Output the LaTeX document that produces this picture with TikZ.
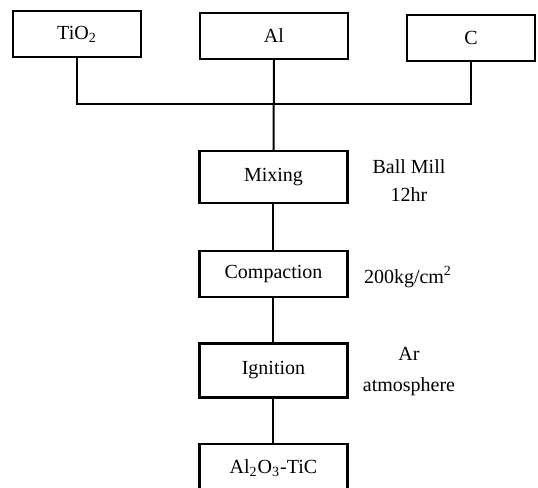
\documentclass[tikz,border=0pt]{standalone}
\usepackage{fontspec}
\setmainfont{Liberation Serif}
\usetikzlibrary{positioning}

\begin{document}
\begin{tikzpicture}[
  x=0.5pt, y=-0.5pt,
  box/.style={draw, line width=1.1pt, inner sep=0pt, minimum width=74pt, minimum height=23pt},
  link/.style={line width=1pt},
  note/.style={align=center, inner sep=0pt}]
\useasboundingbox (0,0) rectangle (538,488);
\clip (0,0) rectangle (538,488);
% raw materials
\node[box, minimum width=64pt] (tio2) at (77,34) {TiO\textsubscript{2}};
\node[box] (al) at (274,36) {Al};
\node[box, minimum width=64pt] (c) at (471,38) {C};
% process chain
\node[box, minimum height=26pt] (mixing) at (273.5,177) {Mixing};
\node[box, below=23pt of mixing, minimum height=23pt] (compaction) {Compaction};
\node[box, below=22pt of compaction, minimum height=27pt] (ignition) {Ignition};
\node[box, below=22pt of ignition, minimum height=25pt] (product) {Al\textsubscript{2}O\textsubscript{3}-TiC};
% conditions
\node[note] (mill) at (409,181) {Ball Mill\\[2pt]12hr};
\node[note] (press) at (408,277) {200kg/cm\textsuperscript{2}};
\node[note] (gas) at (409,372) {Ar\\[3.5pt]atmosphere};
% connectors
\coordinate (join) at (276,104);
\draw[link] (tio2.south) |- (join) -| (c.south);
\draw[link] (al.south) -- (mixing.north);
\draw[link] (mixing) -- (compaction);
\draw[link] (compaction) -- (ignition);
\draw[link] (ignition) -- (product);
\end{tikzpicture}
\end{document}
